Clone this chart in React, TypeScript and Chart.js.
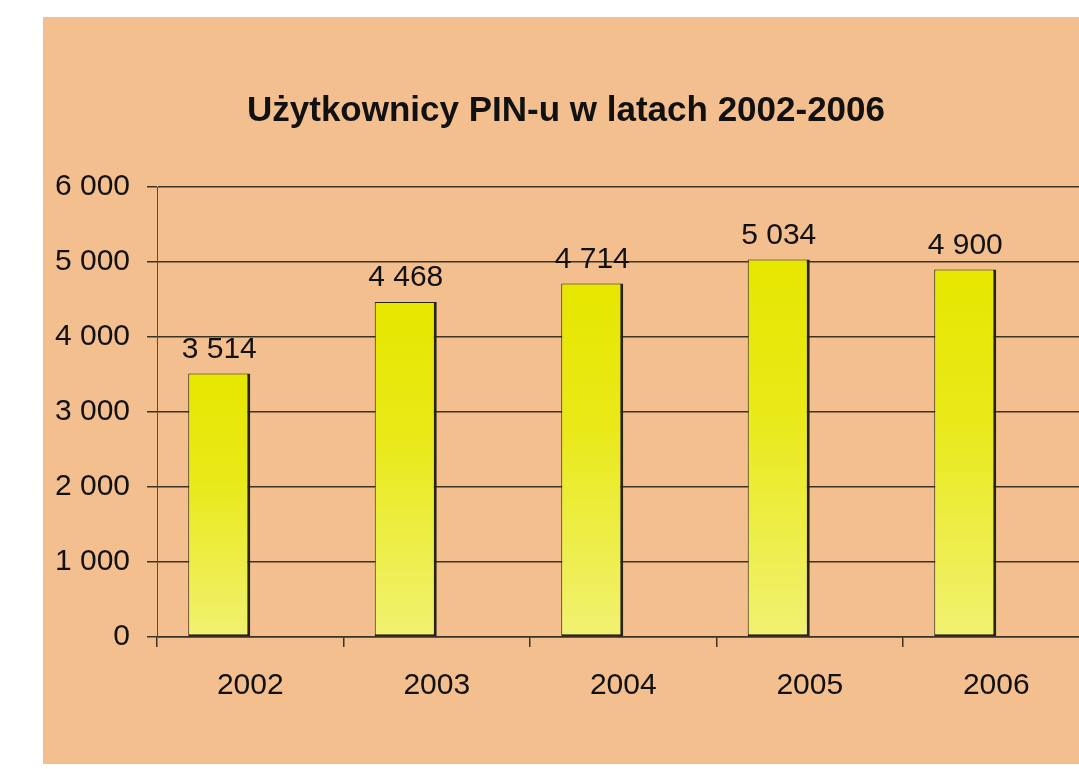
import React, { useEffect, useRef } from "react";
import { Chart, registerables } from "chart.js";

Chart.register(...registerables);

const title = "Użytkownicy PIN-u w latach 2002-2006";
const years = ["2002", "2003", "2004", "2005", "2006"];
const users = [3514, 4468, 4714, 5034, 4900];
const yTicks = [0, 1000, 2000, 3000, 4000, 5000, 6000];

const fmt = (v: number) => String(v).replace(/\B(?=(\d{3})+(?!\d))/g, " ");

const FONT = "'Liberation Sans', Arial, sans-serif";
const W = 1100;
const H = 769;

export default function App() {
  const ref = useRef<HTMLCanvasElement | null>(null);

  useEffect(() => {
    if (!ref.current) return;

    const labelsPlugin = {
      id: "valueLabels",
      afterDatasetsDraw(chart: any) {
        const ctx = chart.ctx;
        const meta = chart.getDatasetMeta(0);
        ctx.save();
        ctx.font = `30px ${FONT}`;
        ctx.fillStyle = "#111";
        ctx.textAlign = "center";
        ctx.textBaseline = "middle";
        meta.data.forEach((el: any, i: number) => {
          ctx.fillText(fmt(users[i]), el.x, el.y - 24);
        });
        ctx.restore();
      },
    };

    const titlePlugin = {
      id: "fixedTitle",
      afterDraw(chart: any) {
        const ctx = chart.ctx;
        ctx.save();
        ctx.font = `bold 35px ${FONT}`;
        ctx.fillStyle = "#111";
        ctx.textAlign = "center";
        ctx.textBaseline = "middle";
        ctx.fillText(title, 566, 111);
        ctx.restore();
      },
    };

    const chart = new Chart(ref.current, {
      type: "bar",
      data: {
        labels: years,
        datasets: [
          {
            data: users,
            backgroundColor: (c: any) => {
              if (c.type !== "data" || !c.chart.chartArea) return "#E8E800";
              const y = c.chart.scales.y;
              const top = y.getPixelForValue(users[c.dataIndex]);
              const bottom = y.getPixelForValue(0);
              const g = c.chart.ctx.createLinearGradient(0, top, 0, bottom);
              g.addColorStop(0, "#E6E600");
              g.addColorStop(0.4, "#E9E918");
              g.addColorStop(1, "#F1F172");
              return g;
            },
            borderColor: "#26240e",
            borderWidth: { top: 1, left: 1, right: 3, bottom: 2 },
            borderSkipped: false,
            barPercentage: 1,
            categoryPercentage: 0.665,
          },
          {
            data: [],
            barPercentage: 1,
            categoryPercentage: 0.665,
          },
        ],
      },
      options: {
        responsive: false,
        animation: false,
        devicePixelRatio: 1,
        layout: { padding: { left: 0, top: 187, right: W - 1089.5, bottom: H - 637 - 80 } },
        plugins: {
          legend: { display: false },
          title: { display: false },
          tooltip: { enabled: false },
        },
        scales: {
          x: {
            offset: true,
            afterFit: (s: any) => {
              s.height = 80;
            },
            grid: {
              offset: true,
              drawOnChartArea: false,
              drawTicks: true,
              tickLength: 10,
              color: "#3b3324",
              lineWidth: 1.5,
            },
            border: { display: true, color: "#3b3324", width: 1.5 },
            ticks: {
              font: { family: FONT, size: 30 },
              color: "#111",
              padding: 21,
            },
          },
          y: {
            min: 0,
            max: 6000,
            afterFit: (s: any) => {
              s.width = 157;
            },
            afterBuildTicks: (s: any) => {
              s.ticks = yTicks.map((v) => ({ value: v }));
            },
            grid: {
              color: "#3b3324",
              lineWidth: 1.5,
              tickLength: 10,
              drawTicks: true,
            },
            border: { display: true, color: "#5b4a33", width: 1 },
            ticks: {
              font: { family: FONT, size: 30 },
              color: "#111",
              padding: 17,
              callback: (v: any) => fmt(Number(v)),
            },
          },
        },
      },
      plugins: [labelsPlugin, titlePlugin],
    } as any);

    return () => chart.destroy();
  }, []);

  return (
    <div
      style={{
        position: "fixed",
        left: 0,
        top: 0,
        width: 1079,
        height: 769,
        overflow: "hidden",
        background: "#ffffff",
      }}
    >
      <div
        style={{
          position: "absolute",
          left: 43,
          top: 17,
          width: 1100,
          height: 747,
          background: "#F4BF8F",
        }}
      />
      <canvas
        ref={ref}
        width={W}
        height={H}
        style={{ position: "absolute", left: 0, top: 0, width: W, height: H }}
      />
    </div>
  );
}
